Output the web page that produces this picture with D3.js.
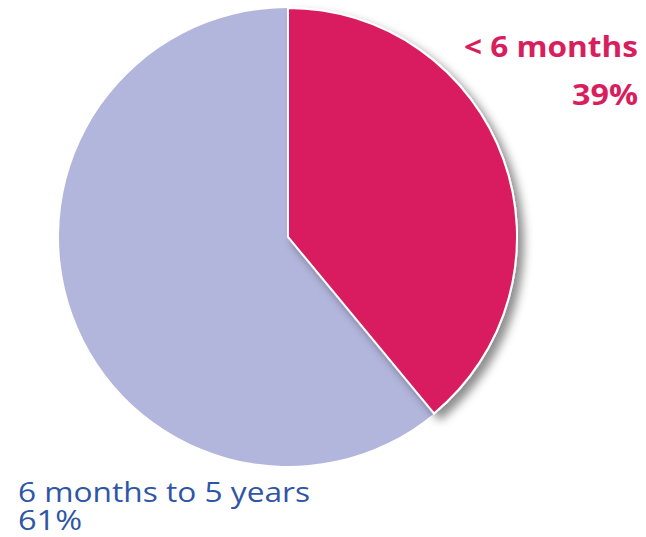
<!DOCTYPE html>
<html>
<head>
<meta charset="utf-8">
<script src="https://cdn.jsdelivr.net/npm/d3@7"></script>
<style>
  body { margin: 0; background: #fff; }
  text { font-family: "Open Sans", Lato, sans-serif; }
</style>
</head>
<body>
<div id="chart"></div>
<script>
const width = 646, height = 537;

const categories = ["< 6 months", "6 months to 5 years"];
const shares = [39, 61];
const colors = ["#D81F5E", "#B3B6DC"];
const labelColors = ["#D81F5E", "#2E56A5"];

const cx = 288, cy = 237, radius = 229;

const svg = d3.select("#chart")
    .append("svg")
    .attr("width", width)
    .attr("height", height);

// soft shadow for the small slice
const defs = svg.append("defs");
const filter = defs.append("filter")
    .attr("id", "shadow")
    .attr("x", "-20%").attr("y", "-20%")
    .attr("width", "150%").attr("height", "150%");
filter.append("feDropShadow")
    .attr("dx", 6).attr("dy", 6)
    .attr("stdDeviation", 5)
    .attr("flood-color", "#000")
    .attr("flood-opacity", 0.45);

const pie = d3.pie().sort(null).value(d => d);
const arcs = pie(shares);
const arc = d3.arc().innerRadius(0).outerRadius(radius);

const g = svg.append("g")
    .attr("transform", `translate(${cx},${cy})`);

// lavender first so the crimson slice (with shadow) sits on top
g.selectAll("path")
    .data(arcs.slice().reverse())
    .enter()
    .append("path")
    .attr("d", arc)
    .attr("fill", d => colors[d.index])
    .attr("stroke", "#fff")
    .attr("stroke-width", d => d.index === 0 ? 2 : 0)
    .attr("filter", d => d.index === 0 ? "url(#shadow)" : null);

// labels, stretched a little to the wider original face
function label(x, y, txt, color, bold, anchor, len) {
    svg.append("text")
        .attr("x", x).attr("y", y)
        .attr("text-anchor", anchor)
        .attr("textLength", len)
        .attr("lengthAdjust", "spacingAndGlyphs")
        .style("font-size", "28px")
        .style("font-weight", bold ? "bold" : "normal")
        .attr("fill", color)
        .text(txt);
}

label(638, 57, categories[0], labelColors[0], true, "end", 174);
label(638, 105, shares[0] + "%", labelColors[0], true, "end", 66);
label(18, 502, categories[1], labelColors[1], false, "start", 292);
label(18, 530, shares[1] + "%", labelColors[1], false, "start", 64);
</script>
</body>
</html>
